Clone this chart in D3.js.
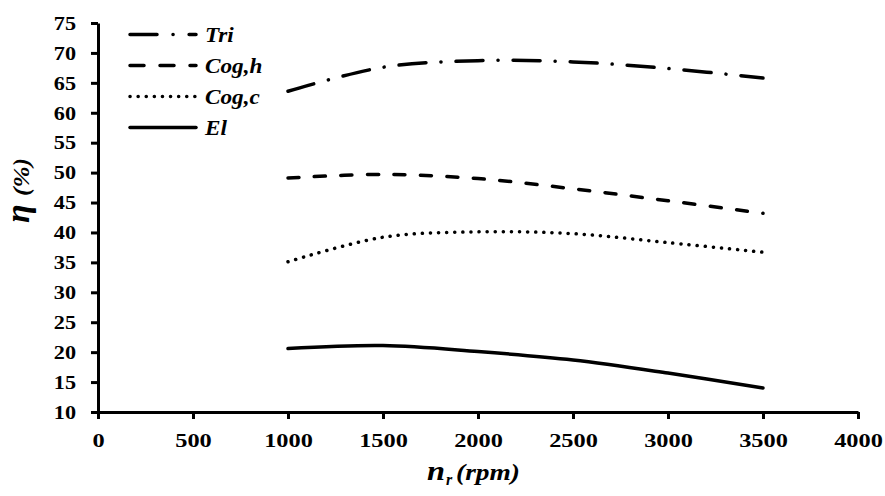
<!DOCTYPE html>
<html>
<head>
<meta charset="utf-8">
<script src="https://cdn.jsdelivr.net/npm/d3@7"></script>
<style>
body { margin: 0; background: #fff; }
svg text { font-family: "Liberation Serif", "Times New Roman", Times, serif; font-weight: bold; fill: #000; }
</style>
</head>
<body>
<div id="chart"></div>
<script>
// speeds (rpm)
var speeds = [1000, 1500, 2000, 2500, 3000, 3500];
// efficiencies (%)
var triVals  = [63.6, 67.6, 68.7, 68.5, 67.4, 65.8];
var cogHVals = [49.1, 49.7, 49.0, 47.3, 45.3, 43.2];
var cogCVals = [35.1, 39.2, 40.1, 39.8, 38.3, 36.7];
var elVals   = [20.6, 21.1, 20.1, 18.7, 16.5, 14.0];
var seriesNames = ["Tri", "Cog,h", "Cog,c", "El"];
var xTicks = [0, 500, 1000, 1500, 2000, 2500, 3000, 3500, 4000];
var yTicks = [10, 15, 20, 25, 30, 35, 40, 45, 50, 55, 60, 65, 70, 75];

var larg = 885, haut = 496;
var m = {top: 23, right: 27, bottom: 84, left: 98};

var svg = d3.select("#chart").append("svg")
    .attr("width", larg)
    .attr("height", haut);

var x = d3.scaleLinear().domain([0, 4000]).range([m.left, larg - m.right]);
var y = d3.scaleLinear().domain([10, 75]).range([haut - m.bottom, m.top]);

// stretch text horizontally, the original fonts are wider
function stretch(sel, k) {
    sel.each(function() {
        var w = this.getComputedTextLength();
        d3.select(this).attr("textLength", w * k).attr("lengthAdjust", "spacingAndGlyphs");
    });
}

var gx = svg.append("g")
    .attr("transform", "translate(0," + y(10) + ")")
    .call(d3.axisBottom(x).tickValues(xTicks).tickFormat(d3.format("d"))
        .tickSizeOuter(0).tickSizeInner(7).tickPadding(14));
var gy = svg.append("g")
    .attr("transform", "translate(" + x(0) + ",0)")
    .call(d3.axisLeft(y).tickValues(yTicks).tickFormat(d3.format("d"))
        .tickSizeOuter(0).tickSizeInner(7).tickPadding(15));

[gx, gy].forEach(function(g) {
    g.attr("font-family", null);
    g.select(".domain").attr("stroke", "#000").attr("stroke-width", 3);
    g.selectAll(".tick line").attr("stroke", "#000").attr("stroke-width", 3);
    g.selectAll(".tick text")
        .attr("font-size", 19.5)
        .attr("fill", "#000");
});
stretch(gx.selectAll(".tick text"), 1.25);
stretch(gy.selectAll(".tick text"), 1.14);

var styles = [
    {vals: triVals,  dash: "27,15,0.1,15", w: 3.5},
    {vals: cogHVals, dash: "11,15.5",      w: 3.5},
    {vals: cogCVals, dash: "0.1,8",        w: 3.5},
    {vals: elVals,   dash: null,           w: 3.5}
];

var line = d3.line()
    .x(function(d, i) { return x(speeds[i]); })
    .y(function(d) { return y(d); })
    .curve(d3.curveCatmullRom.alpha(0.5));

styles.forEach(function(s) {
    svg.append("path")
        .attr("d", line(s.vals))
        .attr("fill", "none")
        .attr("stroke", "#000")
        .attr("stroke-width", s.w)
        .attr("stroke-linecap", "round")
        .attr("stroke-dasharray", s.dash);
});

// legend
var leg = svg.append("g");
var legDash = ["27,16,0.1,16", "14,16", "0.1,8", null];
seriesNames.forEach(function(n, i) {
    var ly = 34.5 + i * 31;
    leg.append("line")
        .attr("x1", 130).attr("x2", 196)
        .attr("y1", ly).attr("y2", ly)
        .attr("stroke", "#000")
        .attr("stroke-width", 3.5)
        .attr("stroke-linecap", "round")
        .attr("stroke-dasharray", legDash[i]);
    leg.append("text")
        .attr("class", "lt")
        .attr("x", 205).attr("y", ly + 7)
        .attr("font-size", 20)
        .attr("font-style", "italic")
        .text(n);
});
stretch(leg.selectAll("text.lt"), 1.16);

// x title
svg.append("text").attr("x", 427).attr("y", 480)
    .attr("font-size", 28).attr("font-style", "italic")
    .attr("textLength", 18).attr("lengthAdjust", "spacingAndGlyphs").text("n");
svg.append("text").attr("x", 446).attr("y", 485)
    .attr("font-size", 16).attr("font-style", "italic").text("r");
svg.append("text").attr("x", 456).attr("y", 480)
    .attr("font-size", 23).attr("font-style", "italic")
    .attr("textLength", 64).attr("lengthAdjust", "spacingAndGlyphs")
    .text("(rpm)");

// y title
svg.append("text").attr("transform", "translate(29,223) rotate(-90)")
    .attr("font-size", 34).attr("font-style", "italic").text("η");
svg.append("text").attr("transform", "translate(29,196) rotate(-90)")
    .attr("font-size", 23).attr("font-style", "italic")
    .attr("textLength", 38).attr("lengthAdjust", "spacingAndGlyphs")
    .text("(%)");
</script>
</body>
</html>
